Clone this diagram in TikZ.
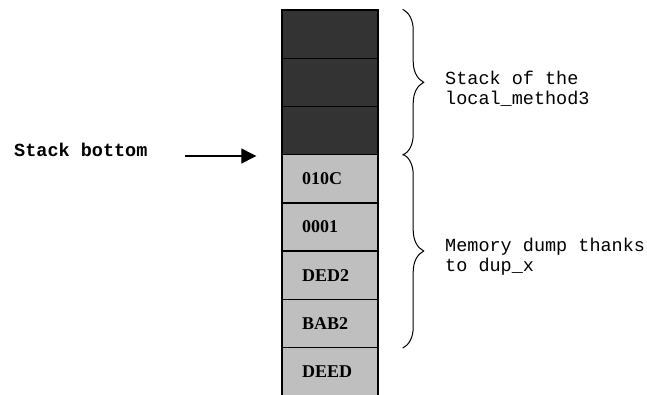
\documentclass[tikz,border=0pt]{standalone}
\usepackage{fontspec}
\setmainfont{Liberation Serif}
\setmonofont{Liberation Mono}
\usepackage{tikz}
\usetikzlibrary{decorations.pathreplacing,arrows.meta}

\begin{document}
\begin{tikzpicture}[x=1pt,y=-1pt]
\tikzstyle{cell}=[rectangle,draw=black,line width=1.4pt,minimum height=48.2pt,text width=56pt,inner xsep=20pt,align=left,font=\fontsize{18}{20}\selectfont\bfseries]
\tikzstyle{used}=[cell,fill=black!80]
\tikzstyle{dump}=[cell,fill=black!25]
\tikzstyle{note}=[rectangle,anchor=west,align=left,inner sep=0pt,font=\fontsize{18.5}{20}\selectfont\ttfamily]
\tikzstyle{brc}=[decorate,decoration={brace,amplitude=21pt},line width=1pt]
\clip (0,0) rectangle (647,394);
\node [used] (c1) at (330,34.1) {};
\node [used] (c2) at (330,82.3) {};
\node [used] (c3) at (330,130.5) {};
\node [dump] (c4) at (330,178.7) {010C};
\node [dump] (c5) at (330,226.9) {0001};
\node [dump] (c6) at (330,275.1) {DED2};
\node [dump] (c7) at (330,323.3) {BAB2};
\node [dump] (c8) at (330,371.5) {DEED};
\node [note,font=\fontsize{18.5}{20}\selectfont\ttfamily\bfseries] (sb) at (14,150) {Stack bottom};
\coordinate (arrstart) at (185,156);
\draw [line width=1.3pt,shorten >=25pt,-{Triangle[length=15pt,width=15pt]}] (arrstart) -- (arrstart -| c4.west);
\draw [brc] ([xshift=24pt]c1.north east) -- ([xshift=24pt]c3.south east);
\draw [brc] ([xshift=24pt]c4.north east) -- ([xshift=24pt]c7.south east);
\node [note] (top) at (445,89) {Stack of the\\local\_method3};
\node [note] (bot) at (445,257) {Memory dump thanks\\to dup\_x};
\end{tikzpicture}
\end{document}
